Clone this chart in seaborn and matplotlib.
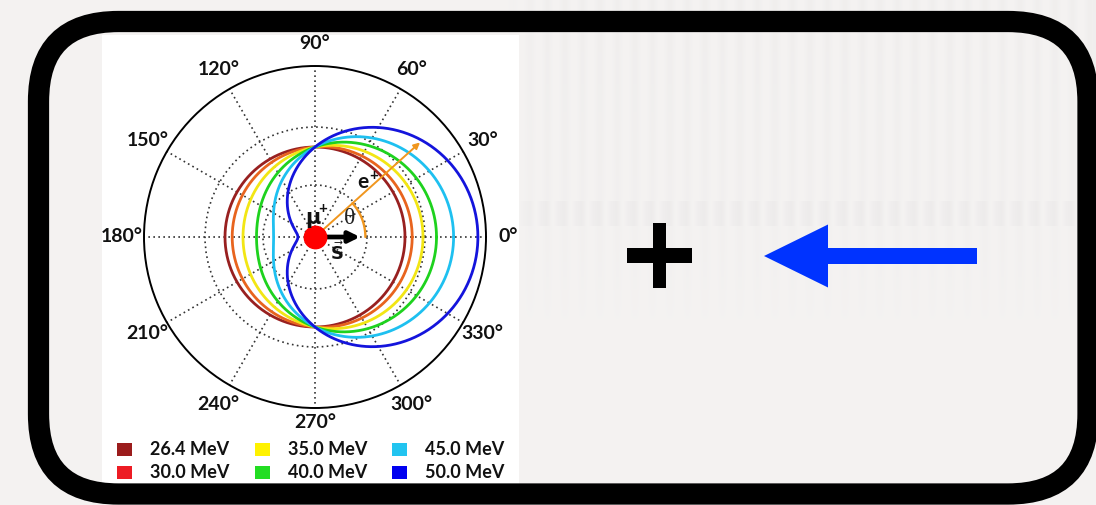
import numpy as np
import pandas as pd
import matplotlib
matplotlib.use("Agg")
import matplotlib.pyplot as plt
import seaborn as sns
from matplotlib.patches import FancyBboxPatch, Rectangle, FancyArrow

# Positron angular distribution r(theta) = 1 + A(E) cos(theta) for several energies
energies = [26.4, 30.0, 35.0, 40.0, 45.0, 50.0]
asymmetry = [0.00, 0.08, 0.20, 0.35, 0.54, 0.81]
curve_colors = ["#982020", "#E8641E", "#F2E614", "#1ED21E", "#1EC0F0", "#1414DC"]
swatch_colors = ["#9B1C1C", "#ED1C24", "#FFF200", "#22DD22", "#22C4F0", "#0000F0"]
angle_ticks = [0, 30, 60, 90, 120, 150, 180, 210, 240, 270, 300, 330]
ring_radii = [0.578, 1.222]
r_max = 1.9

sns.set_style("white")
plt.rcParams["font.family"] = ["Lato", "DejaVu Sans"]

W, H = 1096, 505
fig = plt.figure(figsize=(W / 100, H / 100), dpi=100)

# ---- faded backdrop ----
bg = fig.add_axes([0, 0, 1, 1])
bg.set_xlim(0, W)
bg.set_ylim(H, 0)
bg.axis("off")
img = np.ones((H, W, 3)) * np.array([0.958, 0.951, 0.948])
xs = np.arange(W)
ys = np.arange(H)
stripe = (np.sin(2 * np.pi * xs / 17.5) > 0.25).astype(float)
xmask = np.clip((xs - 500) / 40, 0, 1)
fade = np.clip((320 - ys) / 320, 0, 1) ** 0.5
img -= 0.016 * fade[:, None, None] * (stripe * xmask)[None, :, None]
band = ((ys > 200) & (ys < 226)).astype(float)
dash = (np.sin(2 * np.pi * xs / 17.5 + 1.2) > -0.3).astype(float)
img -= 0.018 * band[:, None, None] * (dash * xmask)[None, :, None] * np.array([1.0, 1.0, 0.92])
k = np.ones(5) / 5
for c in range(3):
    img[:, :, c] = np.apply_along_axis(lambda r: np.convolve(r, k, mode="same"), 1, img[:, :, c])
img[:, :3, :] = img[:, 3:6, :].mean(axis=1, keepdims=True)
img[:, -3:, :] = img[:, -6:-3, :].mean(axis=1, keepdims=True)
bg.imshow(np.clip(img, 0, 1), extent=[0, W, H, 0], aspect="auto", zorder=0)

# white panel holding the polar chart
bg.add_patch(Rectangle((102, 35), 417, 455, facecolor="white", edgecolor="none", zorder=1))

# rounded frame
bg.add_patch(FancyBboxPatch((38.5, 21.5), 1088 - 38.5, 494 - 21.5,
                            boxstyle="round,pad=0,rounding_size=80",
                            facecolor="none", edgecolor="black", linewidth=15.3, zorder=3))

# plus sign and blue arrow
bg.add_patch(Rectangle((627, 248), 65, 15, facecolor="black", edgecolor="none", zorder=2))
bg.add_patch(Rectangle((653, 223), 13, 65, facecolor="black", edgecolor="none", zorder=2))
bg.add_patch(FancyArrow(977, 256, -213, 0, width=16, head_width=63, head_length=64,
                        length_includes_head=True, facecolor="#0033FF", edgecolor="none", zorder=2))

# ---- polar chart ----
cx, cy, rad = 315, 237, 171
pax = fig.add_axes([(cx - rad) / W, (H - cy - rad) / H, 2 * rad / W, 2 * rad / H],
                   projection="polar")
pax.set_zorder(2)
pax.patch.set_alpha(0)

theta = np.linspace(0, 2 * np.pi, 721)
frames = []
for e, a in zip(energies, asymmetry):
    frames.append(pd.DataFrame({"theta": theta,
                                "r": 1 + a * np.cos(theta),
                                "energy": f"{e:.1f} MeV"}))
df = pd.concat(frames, ignore_index=True)
palette = {f"{e:.1f} MeV": c for e, c in zip(energies, curve_colors)}
sns.lineplot(data=df, x="theta", y="r", hue="energy", palette=palette,
             sort=False, estimator=None, legend=False, linewidth=2.0, ax=pax)
pax.set_xlabel("")
pax.set_ylabel("")

pax.set_ylim(0, r_max)
pax.set_rgrids(ring_radii, labels=["", ""])
pax.set_thetagrids(angle_ticks, labels=[""] * len(angle_ticks))
pax.grid(True, color="#333333", linestyle=(0, (1, 2.0)), linewidth=1.2)
pax.spines["polar"].set_color("black")
pax.spines["polar"].set_linewidth(1.4)

for a in angle_ticks:
    rl = 2.06 if a == 270 else 2.15
    pax.text(np.deg2rad(a), rl, f"{a}°", ha="center", va="center",
             fontsize=14, fontweight="bold", color="#111111", clip_on=False)

# spin arrow, positron direction and angle
pax.annotate("", xy=(0, 0.50), xytext=(0, 0.0),
             arrowprops=dict(arrowstyle="-|>", color="black", lw=3.4,
                             mutation_scale=16, shrinkA=0, shrinkB=0), zorder=6)
e_dir = np.deg2rad(42)
pax.annotate("", xy=(e_dir, 1.57), xytext=(e_dir, 0.0),
             arrowprops=dict(arrowstyle="-|>", color="#F0961E", lw=1.4,
                             mutation_scale=9, shrinkA=0, shrinkB=0), zorder=6)
arc_t = np.linspace(0, e_dir, 40)
pax.plot(arc_t, np.full_like(arc_t, 0.56), color="#F0961E", linewidth=1.7, zorder=6)
pax.scatter([0], [0], s=260, color="#FF0000", zorder=7, clip_on=False)

T = bg.transData
pax.text(313, 218, "μ", transform=T, ha="center", va="center", fontsize=15,
         fontweight="bold", family=["DejaVu Sans"], color="#111111", zorder=8)
pax.text(323, 209, "+", transform=T, ha="center", va="center", fontsize=11,
         fontweight="bold", color="#111111", zorder=8)
pax.text(363, 182, "e", transform=T, ha="center", va="center", fontsize=15,
         fontweight="bold", color="#111111", zorder=8)
pax.text(374, 176, "+", transform=T, ha="center", va="center", fontsize=11,
         fontweight="bold", color="#111111", zorder=8)
pax.text(350, 219, "θ", transform=T, ha="center", va="center", fontsize=17,
         family=["Liberation Serif", "DejaVu Serif"], color="#222222", zorder=8)
pax.text(337, 252, r"$\vec{\mathbf{S}}$", transform=T, ha="center", va="center",
         fontsize=13, color="#111111", zorder=8)

# legend: three columns, two rows
col_x = [124.5, 262.5, 399.5]
row_y = [449, 472]
for i, (e, c) in enumerate(zip(energies, swatch_colors)):
    x0 = col_x[i // 2]
    y0 = row_y[i % 2]
    bg.add_patch(Rectangle((x0 - 7.5, y0 - 6.5), 15, 13, facecolor=c,
                           edgecolor="none", zorder=2))
    bg.text(x0 + 25.5, y0 + 0.5, f"{e:.1f} MeV", ha="left", va="center",
            fontsize=13, fontweight="bold", color="#111111", zorder=2)

fig.savefig("out.png", dpi=100)
